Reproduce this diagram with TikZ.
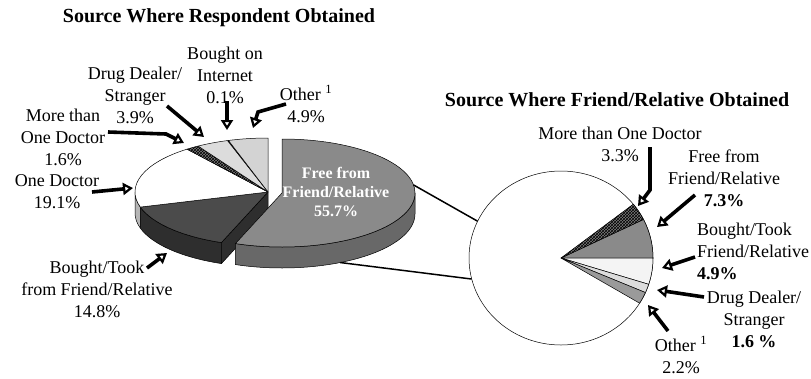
\documentclass[tikz,border=0pt]{standalone}
\usepackage{fontspec}
\setmainfont{Liberation Serif}
\usetikzlibrary{arrows.meta,calc,patterns}
\definecolor{freetop}{HTML}{8A8A8A}
\definecolor{freeside}{HTML}{686868}
\definecolor{boughttop}{HTML}{4B4B4B}
\definecolor{boughtside}{HTML}{2E2E2E}
\definecolor{doctorside}{HTML}{B5B5B5}
\definecolor{dealer}{HTML}{DCDCDC}
\definecolor{other}{HTML}{D3D3D3}
\definecolor{hatch}{HTML}{7C7C7C}
\definecolor{paletop}{HTML}{F4F4F4}
\definecolor{midgray}{HTML}{9A9A9A}

\begin{document}
\begin{tikzpicture}[x=1pt,y=-1pt,
	slicetext/.style={font=\fontsize{18}{22}\selectfont,align=center,inner sep=0pt},
	charttitle/.style={font=\bfseries\fontsize{20}{24}\selectfont,inner sep=0pt},
	pointer/.style={line width=3.6pt,-{Triangle[open,length=10pt,width=12pt,line width=2.2pt]}},
	slice/.style={draw=black,line width=0.5pt,line join=round}]
	\useasboundingbox (0,0) rectangle (811,378);
	\coordinate (C) at (268,192);
	\coordinate (Cx) at (282,193);
	\coordinate (R) at (561,258);
	%left pie, sides
	\draw[slice,fill=doctorside] ($(C)+(180:133 and 54)$) arc[start angle=180,end angle=163.8,x radius=133,y radius=54] -- ++(0,21) arc[start angle=163.8,end angle=180,x radius=133,y radius=54] -- cycle;
	\draw[slice,fill=boughtside] ($(C)+(163.8:133 and 54)$) arc[start angle=163.8,end angle=110.5,x radius=133,y radius=54] -- ++(0,21) arc[start angle=110.5,end angle=163.8,x radius=133,y radius=54] -- cycle;
	\draw[slice,fill=boughtside] (C) -- ($(C)+(110.5:133 and 54)$) -- ++(0,21) -- ($(C)+(0,21)$) -- cycle;
	%left pie, tops
	\draw[slice,fill=boughttop] (C) -- ($(C)+(163.8:133 and 54)$) arc[start angle=163.8,end angle=110.5,x radius=133,y radius=54] -- cycle;
	\draw[slice,fill=white] (C) -- ($(C)+(163.8:133 and 54)$) arc[start angle=163.8,end angle=232.5,x radius=133,y radius=54] -- cycle;
	\draw[slice,fill=hatch,postaction={pattern=crosshatch}] (C) -- ($(C)+(232.5:133 and 54)$) arc[start angle=232.5,end angle=238.3,x radius=133,y radius=54] -- cycle;
	\draw[slice,fill=dealer] (C) -- ($(C)+(238.3:133 and 54)$) arc[start angle=238.3,end angle=252.3,x radius=133,y radius=54] -- cycle;
	\draw[slice,fill=white] (C) -- ($(C)+(252.3:133 and 54)$) arc[start angle=252.3,end angle=252.7,x radius=133,y radius=54] -- cycle;
	\draw[slice,fill=other] (C) -- ($(C)+(252.7:133 and 54)$) arc[start angle=252.7,end angle=270,x radius=133,y radius=54] -- cycle;
	%exploded slice
	\draw[slice,fill=freeside] ($(Cx)+(110.5:133 and 54)$) arc[start angle=110.5,end angle=0,x radius=133,y radius=54] -- ++(0,21) arc[start angle=0,end angle=110.5,x radius=133,y radius=54] -- cycle;
	\draw[slice,fill=freetop] (Cx) -- ($(Cx)+(-90:133 and 54)$) arc[start angle=-90,end angle=110.5,x radius=133,y radius=54] -- cycle;
	\node[font=\bfseries\fontsize{16}{19}\selectfont,text=white,align=center,inner sep=0pt] (freeTxt) at (336,192) {Free from\\Friend/Relative\\55.7\%};
	%zoom lines
	\coordinate (zoomTop) at ($(Cx)+(-8.6:133 and 54)$);
	\coordinate (zoomLow) at ($(Cx)+(0,21)+(64:133 and 54)$);
	\coordinate (rimTop) at ($(R)+(205:92 and 87)$);
	\coordinate (rimLow) at ($(R)+(166:92 and 87)$);
	\draw[line width=1.5pt] (zoomTop) -- (rimTop);
	\draw[line width=1.5pt] (zoomLow) -- (rimLow);
	%right pie
	\draw[slice,fill=white] (R) ellipse[x radius=92,y radius=87];
	\draw[slice,fill=freetop] (R) -- ($(R)+(333.7:92 and 87)$) arc[start angle=333.7,end angle=360,x radius=92,y radius=87] -- cycle;
	\draw[slice,fill=hatch,postaction={pattern=crosshatch}] (R) -- ($(R)+(321.8:92 and 87)$) arc[start angle=321.8,end angle=333.7,x radius=92,y radius=87] -- cycle;
	\draw[slice,fill=paletop] (R) -- ($(R)+(0:92 and 87)$) arc[start angle=0,end angle=17.6,x radius=92,y radius=87] -- cycle;
	\draw[slice,fill=dealer] (R) -- ($(R)+(17.6:92 and 87)$) arc[start angle=17.6,end angle=23.4,x radius=92,y radius=87] -- cycle;
	\draw[slice,fill=midgray] (R) -- ($(R)+(23.4:92 and 87)$) arc[start angle=23.4,end angle=31.3,x radius=92,y radius=87] -- cycle;
	%titles
	\node[charttitle] (titleL) at (219,18) {Source Where Respondent Obtained};
	\node[charttitle] (titleR) at (617,100) {Source Where Friend/Relative Obtained};
	%left labels
	\node[slicetext] (lInternet) at (225,75) {Bought on\\Internet\\0.1\%};
	\node[slicetext] (lDealer) at (135,95) {Drug Dealer/\\Stranger\\3.9\%};
	\node[slicetext] (lOther) at (306,104) {Other \textsuperscript{1}\\4.9\%};
	\node[slicetext] (lMore) at (63,137) {More than\\One Doctor\\1.6\%};
	\node[slicetext] (lOne) at (57,192) {One Doctor\\19.1\%};
	\node[slicetext] (lBought) at (97,289) {Bought/Took\\from Friend/Relative\\14.8\%};
	%right labels
	\node[slicetext] (rMore) at (620,144) {More than One Doctor\\3.3\%};
	\node[slicetext] (rFree) at (724,178) {Free from\\Friend/Relative\\\textbf{7.3\%}};
	\node[slicetext,anchor=west,align=left] (rBought) at (697,251) {Bought/Took\\Friend/Relative\\\textbf{4.9\%}};
	\node[slicetext] (rDealer) at (754,319) {Drug Dealer/\\Stranger\\\textbf{1.6 \%}};
	\node[slicetext] (rOther) at (681,355) {Other \textsuperscript{1}\\2.2\%};
	%arrows, left
	\coordinate (aOther) at (286,104);
	\coordinate (tOther) at (253,128);
	\draw[pointer] (aOther) -- (258,112) -- (tOther);
	\coordinate (aInternet) at (227,101);
	\coordinate (tInternet) at (227,130);
	\draw[pointer] (aInternet) -- (tInternet);
	\coordinate (aDealer) at (167,106);
	\coordinate (tDealer) at (204,137);
	\draw[pointer] (aDealer) -- (tDealer);
	\coordinate (aMore) at (108,132);
	\coordinate (tMore) at (184,143);
	\draw[pointer] (aMore) -- (166,134) -- (tMore);
	\coordinate (aOne) at (92,192);
	\coordinate (tOne) at (133,188);
	\draw[pointer] (aOne) -- (tOne);
	\coordinate (aBought) at (147,268);
	\coordinate (tBought) at (167,253);
	\draw[pointer] (aBought) -- (tBought);
	%arrows, right
	\coordinate (bMore) at (650,147);
	\coordinate (sMore) at (638,206);
	\draw[pointer] (bMore) -- (650,190) -- (sMore);
	\coordinate (bFree) at (695,195);
	\coordinate (sFree) at (657,227);
	\draw[pointer] (bFree) -- (sFree);
	\coordinate (bBought) at (695,257);
	\coordinate (sBought) at (662,268);
	\draw[pointer] (bBought) -- (sBought);
	\coordinate (bDealer) at (704,297);
	\coordinate (sDealer) at (657,290);
	\draw[pointer] (bDealer) -- (sDealer);
	\coordinate (bOther) at (668,331);
	\coordinate (sOther) at (648,305);
	\draw[pointer] (bOther) -- (sOther);
\end{tikzpicture}
\end{document}
